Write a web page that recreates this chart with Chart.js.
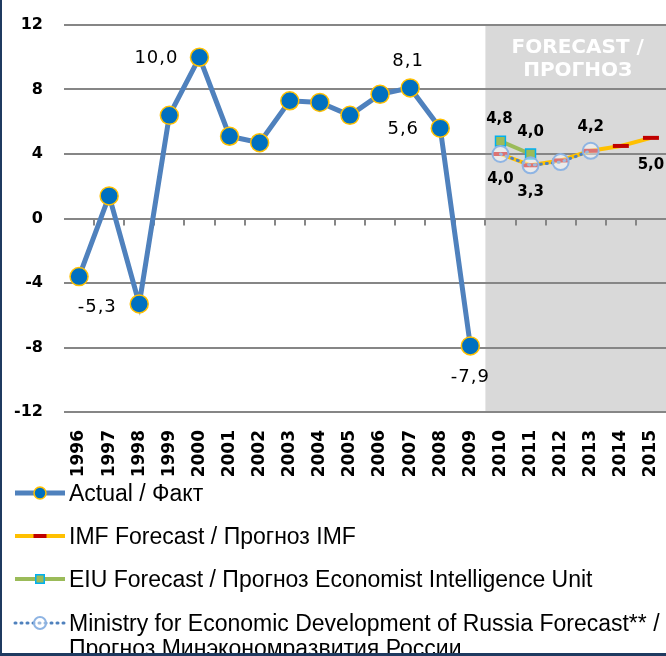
<!DOCTYPE html>
<html>
<head>
<meta charset="utf-8">
<script src="https://cdn.jsdelivr.net/npm/chart.js@4.4.1/dist/chart.umd.min.js"></script>
<style>
  html, body { margin: 0; padding: 0; background: #fff; overflow: hidden; }
  #wrap { position: relative; width: 666px; height: 656px; }
  #chart { display: block; }
  #frame {
    position: absolute; left: 0; top: 0; width: 664px; height: 653px;
    border-left: 2px solid #1F3A60; border-bottom: 3px solid #1F3A60;
    pointer-events: none;
  }
</style>
</head>
<body>
<div id="wrap"><canvas id="chart"></canvas><div id="frame"></div></div>
<script>
// ======== DATA ========
const years = ["1996", "1997", "1998", "1999", "2000", "2001", "2002", "2003", "2004", "2005",
               "2006", "2007", "2008", "2009", "2010", "2011", "2012", "2013", "2014", "2015"];
const actual = [-3.6, 1.4, -5.3, 6.4, 10.0, 5.1, 4.7, 7.3, 7.2, 6.4, 7.7, 8.1, 5.6, -7.9,
                null, null, null, null, null, null];
const imfForecast = [null, null, null, null, null, null, null, null, null, null, null, null, null, null,
                     4.0, 3.3, 3.6, 4.2, 4.5, 5.0];
const eiuForecast = [null, null, null, null, null, null, null, null, null, null, null, null, null, null,
                     4.8, 4.0, null, null, null, null];
const ministryForecast = [null, null, null, null, null, null, null, null, null, null, null, null, null, null,
                          4.0, 3.3, 3.5, 4.2, null, null];
const yTicks = [-12, -8, -4, 0, 4, 8, 12];
const forecastStart = "2010";

const legendTexts = [
  ["Actual / Факт"],
  ["IMF Forecast / Прогноз IMF"],
  ["EIU Forecast / Прогноз Economist Intelligence Unit"],
  ["Ministry for Economic Development of Russia Forecast** /", "Прогноз Минэкономразвития России"]
];

// which points carry a value label: dataset, index, offset
const labelSpecs = [
  { ds: 0, i: 2,  dx: -42, dy: 3 },
  { ds: 0, i: 4,  dx: -43, dy: 1 },
  { ds: 0, i: 11, dx: -2,  dy: -27 },
  { ds: 0, i: 12, dx: -37, dy: 1 },
  { ds: 0, i: 13, dx: 0,   dy: 31 },
  { ds: 2, i: 14, dx: -1,  dy: -22, bold: true },
  { ds: 2, i: 15, dx: 0,   dy: -22, bold: true },
  { ds: 3, i: 14, dx: 0,   dy: 25,  bold: true },
  { ds: 3, i: 15, dx: 0,   dy: 27,  bold: true },
  { ds: 3, i: 17, dx: 0,   dy: -24, bold: true },
  { ds: 1, i: 19, dx: 0,   dy: 27,  bold: true }
];

const fmt = v => v.toFixed(1).replace(".", ",");

// ======== PLUGIN ========
const decor = {
  id: "decor",
  beforeDraw(chart) {
    const { ctx, chartArea: a, scales: { x } } = chart;
    ctx.save();
    ctx.fillStyle = "#fff";
    ctx.fillRect(0, 0, chart.width, chart.height);
    const k = years.indexOf(forecastStart);
    const left = (x.getPixelForValue(k - 1) + x.getPixelForValue(k)) / 2;
    ctx.fillStyle = "#D9D9D9";
    ctx.fillRect(left, a.top, a.right - left, a.bottom - a.top);
    ctx.fillStyle = "#fff";
    ctx.font = 'bold 20px "DejaVu Sans"';
    ctx.textAlign = "center";
    ctx.textBaseline = "middle";
    const cx = (left + a.right) / 2 + 2;
    ctx.fillText("FORECAST /", cx, a.top + 23);
    ctx.fillText("ПРОГНОЗ", cx, a.top + 46);
    ctx.restore();
  },
  beforeDatasetsDraw(chart) {
    // small ticks hanging from the zero line
    const { ctx, scales: { x, y } } = chart;
    const y0 = y.getPixelForValue(0);
    ctx.save();
    ctx.strokeStyle = "#868686";
    ctx.lineWidth = 2;
    ctx.beginPath();
    for (let i = 1; i < years.length; i++) {
      const px = Math.round((x.getPixelForValue(i - 1) + x.getPixelForValue(i)) / 2);
      ctx.moveTo(px, y0);
      ctx.lineTo(px, y0 + 7);
    }
    ctx.stroke();
    ctx.restore();
  },
  afterDatasetsDraw(chart) {
    const { ctx } = chart;
    ctx.save();
    ctx.fillStyle = "#000";
    ctx.textAlign = "center";
    ctx.textBaseline = "middle";
    labelSpecs.forEach(s => {
      const pt = chart.getDatasetMeta(s.ds).data[s.i];
      const v = chart.data.datasets[s.ds].data[s.i];
      ctx.font = s.bold ? 'bold 15px "DejaVu Sans"' : '18px "DejaVu Sans"';
      ctx.letterSpacing = s.bold ? "0px" : "1px";
      ctx.fillText(fmt(v), pt.x + s.dx, pt.y + s.dy);
    });
    ctx.letterSpacing = "0px";
    ctx.restore();
  },
  afterDraw(chart) {
    // legend, one entry per row
    const { ctx } = chart;
    const rows = [493, 536, 579, 623];
    ctx.save();
    chart.data.datasets.forEach((d, n) => {
      const yy = rows[n];
      ctx.save();
      ctx.strokeStyle = d.borderColor;
      ctx.lineWidth = d.borderWidth;
      ctx.setLineDash(d.borderDash || []);
      ctx.lineCap = d.borderCapStyle || "butt";
      ctx.beginPath();
      ctx.moveTo(15, yy);
      ctx.lineTo(65, yy);
      ctx.stroke();
      ctx.setLineDash([]);
      ctx.fillStyle = d.pointBackgroundColor;
      ctx.strokeStyle = d.pointBorderColor;
      ctx.lineWidth = d.pointBorderWidth;
      Chart.helpers.drawPoint(ctx, {
        pointStyle: d.pointStyle, rotation: 0,
        radius: d.legendRadius, borderWidth: d.pointBorderWidth
      }, 40, yy);
      ctx.restore();
      ctx.fillStyle = "#000";
      ctx.font = '23px "Liberation Sans"';
      ctx.textAlign = "left";
      ctx.textBaseline = "middle";
      legendTexts[n].forEach((t, j) => ctx.fillText(t, 69, yy + 2 + j * 25));
    });
    ctx.restore();
  }
};

// ======== CHART ========
new Chart(document.getElementById("chart"), {
  type: "line",
  data: {
    labels: years,
    datasets: [
      {
        label: "Actual / Факт", data: actual, order: 3,
        borderColor: "#4F81BD", borderWidth: 5,
        pointStyle: "circle", pointRadius: 9, legendRadius: 6,
        pointBackgroundColor: "#0070C0", pointBorderColor: "#FFC000", pointBorderWidth: 1.5
      },
      {
        label: "IMF Forecast / Прогноз IMF", data: imfForecast, order: 1,
        borderColor: "#FFC000", borderWidth: 4,
        pointStyle: "line", pointRadius: 8, legendRadius: 6.5,
        pointBackgroundColor: "#C00000", pointBorderColor: "#C00000", pointBorderWidth: 4
      },
      {
        label: "EIU Forecast / Прогноз Economist Intelligence Unit", data: eiuForecast, order: 2,
        borderColor: "#9BBB59", borderWidth: 4,
        pointStyle: "rect", pointRadius: 7, legendRadius: 6,
        pointBackgroundColor: "#9BBB59", pointBorderColor: "#00B0F0", pointBorderWidth: 1.5
      },
      {
        label: "Ministry for Economic Development of Russia Forecast", data: ministryForecast, order: 0,
        borderColor: "#4F81BD", borderWidth: 3, borderDash: [1, 5], borderCapStyle: "round",
        pointStyle: "circle", pointRadius: 8, legendRadius: 6,
        pointBackgroundColor: "rgba(255,255,255,0.45)", pointBorderColor: "#8EB4E3", pointBorderWidth: 2
      }
    ]
  },
  options: {
    responsive: true,
    maintainAspectRatio: false,
    animation: false,
    layout: { autoPadding: false, padding: { top: 25, bottom: 176, left: 0, right: 0 } },
    plugins: { legend: { display: false }, tooltip: { enabled: false } },
    scales: {
      x: {
        offset: true,
        grid: { display: false },
        border: { display: false },
        ticks: {
          color: "#000", autoSkip: false, minRotation: 90, maxRotation: 90, padding: 10,
          font: { family: "DejaVu Sans", size: 17, weight: "bold" }
        },
        afterFit: s => { s.height = 68; s.paddingLeft = 0; s.paddingRight = 0; }
      },
      y: {
        min: -12, max: 12,
        afterBuildTicks: s => { s.ticks = yTicks.map(v => ({ value: v })); },
        grid: { color: "#868686", lineWidth: 2, drawTicks: false },
        border: { display: false },
        ticks: {
          color: "#000", padding: 21,
          font: { family: "DejaVu Sans", size: 16, weight: "bold" }
        },
        afterFit: s => { s.width = 64; s.paddingTop = 0; s.paddingBottom = 0; }
      }
    }
  },
  plugins: [decor]
});
</script>
</body>
</html>
